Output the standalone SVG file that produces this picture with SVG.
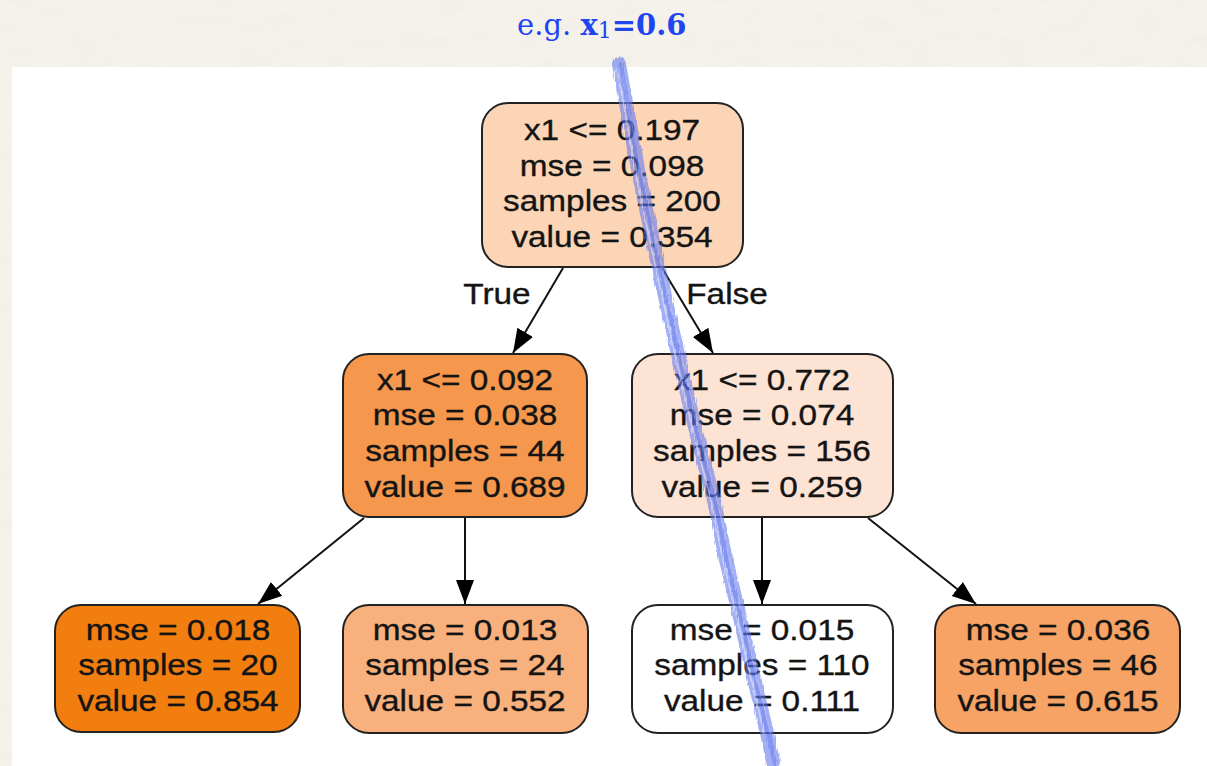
<svg xmlns="http://www.w3.org/2000/svg" width="1207" height="766" viewBox="0 0 1207 766">
  <defs>
    <style>
      .node rect { stroke: #222; stroke-width: 2; }
      .lbl { font-family: "Liberation Sans", Arial, Helvetica, sans-serif; font-size: 29px; fill: #141414; stroke: #141414; stroke-width: 0.35; text-anchor: middle; }
      .edge { stroke: #111; stroke-width: 2; fill: none; marker-end: url(#arrow); }
      .title { font-family: "DejaVu Serif", "Liberation Serif", serif; font-size: 29px; fill: #1f45ef; }
    </style>
    <marker id="arrow" markerUnits="userSpaceOnUse" markerWidth="26" markerHeight="20" viewBox="0 -10 26 20" refX="24" refY="0" orient="auto">
      <path d="M0,-9 L24,0 L0,9 z" fill="#000"/>
    </marker>
    <filter id="paper" x="0" y="0" width="100%" height="100%">
      <feTurbulence type="fractalNoise" baseFrequency="0.03 0.06" numOctaves="4" seed="7" result="n"/>
      <feColorMatrix in="n" type="matrix" values="0 0 0 0 0.6  0 0 0 0 0.55  0 0 0 0 0.45  0 0 0 0.9 -0.38"/>
    </filter>
    <filter id="crayon" x="-20%" y="-5%" width="140%" height="110%">
      <feTurbulence type="fractalNoise" baseFrequency="0.9 0.08" numOctaves="2" seed="3" result="t"/>
      <feDisplacementMap in="SourceGraphic" in2="t" scale="4" xChannelSelector="R" yChannelSelector="G"/>
    </filter>
  </defs>

  <!-- paper background and white drawing sheet -->
  <rect x="0" y="0" width="1207" height="766" fill="#f5f2ec"/>
  <rect x="0" y="0" width="1207" height="766" filter="url(#paper)" opacity="0.16"/>
  <rect x="12" y="67" width="1195" height="699" fill="#ffffff"/>

  <!-- heading -->
  <text class="title" x="517" y="35">e.g. <tspan font-weight="bold">x</tspan><tspan font-size="22" dy="3">1</tspan><tspan font-weight="bold" dy="-3">=0.6</tspan></text>

  <!-- connectors -->
  <g id="edges">
    <path class="edge" d="M563,268 L513,353"/>
    <path class="edge" d="M662,268 L713,353"/>
    <path class="edge" d="M364,518 L258,604"/>
    <path class="edge" d="M465,518 L465,604"/>
    <path class="edge" d="M762,518 L762,604"/>
    <path class="edge" d="M868,518 L976,604"/>
    <g class="lbl">
      <text transform="translate(497 304) scale(1.15 1)">True</text>
      <text transform="translate(727 304) scale(1.15 1)">False</text>
    </g>
  </g>

  <!-- root split -->
  <g id="node0" class="node">
    <rect x="482" y="103" width="261" height="164" rx="26" fill="#fbd5b6"/>
    <g class="lbl" transform="translate(612 0) scale(1.15 1)">
      <text x="0" y="140">x1 &lt;= 0.197</text>
      <text x="0" y="176">mse = 0.098</text>
      <text x="0" y="211">samples = 200</text>
      <text x="0" y="247">value = 0.354</text>
    </g>
  </g>

  <g id="node1" class="node">
    <rect x="343" y="354" width="244" height="163" rx="26" fill="#f5974c"/>
    <g class="lbl" transform="translate(465 0) scale(1.15 1)">
      <text x="0" y="390">x1 &lt;= 0.092</text>
      <text x="0" y="425">mse = 0.038</text>
      <text x="0" y="461">samples = 44</text>
      <text x="0" y="497">value = 0.689</text>
    </g>
  </g>

  <g id="node4" class="node">
    <rect x="632" y="354" width="261" height="163" rx="26" fill="#fde3d4"/>
    <g class="lbl" transform="translate(762 0) scale(1.15 1)">
      <text x="0" y="390">x1 &lt;= 0.772</text>
      <text x="0" y="425">mse = 0.074</text>
      <text x="0" y="461">samples = 156</text>
      <text x="0" y="497">value = 0.259</text>
    </g>
  </g>

  <!-- leaves -->
  <g id="node2" class="node">
    <rect x="55" y="605" width="245" height="127" rx="26" fill="#f37e10"/>
    <g class="lbl" transform="translate(178 0) scale(1.15 1)">
      <text x="0" y="640">mse = 0.018</text>
      <text x="0" y="675">samples = 20</text>
      <text x="0" y="711">value = 0.854</text>
    </g>
  </g>

  <g id="node3" class="node">
    <rect x="343" y="605" width="245" height="128" rx="26" fill="#f8b07d"/>
    <g class="lbl" transform="translate(465 0) scale(1.15 1)">
      <text x="0" y="640">mse = 0.013</text>
      <text x="0" y="675">samples = 24</text>
      <text x="0" y="711">value = 0.552</text>
    </g>
  </g>

  <g id="node5" class="node">
    <rect x="632" y="605" width="261" height="128" rx="26" fill="#ffffff"/>
    <g class="lbl" transform="translate(762 0) scale(1.15 1)">
      <text x="0" y="640">mse = 0.015</text>
      <text x="0" y="675">samples = 110</text>
      <text x="0" y="711">value = 0.111</text>
    </g>
  </g>

  <g id="node6" class="node">
    <rect x="935" y="605" width="245" height="128" rx="26" fill="#f6a365"/>
    <g class="lbl" transform="translate(1058 0) scale(1.15 1)">
      <text x="0" y="640">mse = 0.036</text>
      <text x="0" y="675">samples = 46</text>
      <text x="0" y="711">value = 0.615</text>
    </g>
  </g>

  <!-- hand-drawn pencil stroke through the tree -->
  <g id="pencil" filter="url(#crayon)" fill="none" stroke-linecap="round">
    <path d="M619,64 L624,92 L640,180 L658,265 L677,350 L696,432 L714,500 L726,560 L737,605 L752,670 L767,733 L773,762" stroke="#5e76ee" stroke-width="14" opacity="0.58"/>
    <path d="M617,70 L622,95 L637,180 L655,265 L674,350 L693,432 L711,500 L723,560 L734,605 L749,670 L764,733" stroke="#ffffff" stroke-width="1.5" opacity="0.45"/>
    <path d="M623,75 L627,100 L643,180 L661,265 L680,350 L699,432 L717,500 L729,560 L740,605 L755,670 L770,733" stroke="#ffffff" stroke-width="1.2" opacity="0.35"/>
    <path d="M621,64 L626,95 L641,180 L659,265 L678,350 L697,432 L715,500 L727,560 L738,605 L753,670 L768,733 L775,764" stroke="#3a55e0" stroke-width="4" opacity="0.3"/>
  </g>
</svg>
